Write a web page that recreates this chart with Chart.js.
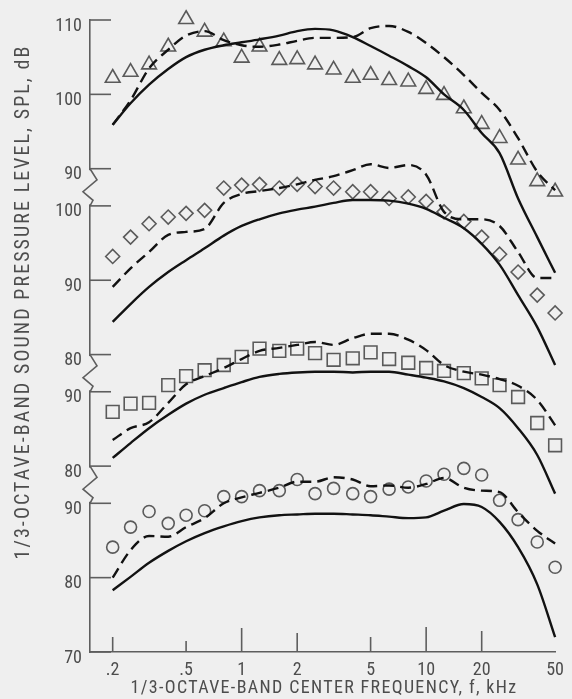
<!DOCTYPE html>
<html>
<head>
<meta charset="utf-8">
<script src="https://cdn.jsdelivr.net/npm/chart.js@4/dist/chart.umd.min.js"></script>
<style>
  html, body { margin: 0; padding: 0; background: #efefef; }
  canvas { display: block; }
</style>
</head>
<body>
<canvas id="c" width="572" height="699"></canvas>
<script>
// 1/3-octave band centre frequencies, kHz
const FREQ = [0.2,0.25,0.315,0.4,0.5,0.63,0.8,1,1.25,1.6,2,2.5,3.15,4,5,6.3,8,10,12.5,16,20,25,31.5,40,50];

// Panel 1 (triangles), dB
const TRI_DATA   = [102.2,103.0,104.0,106.4,110.1,108.4,107.1,104.9,106.4,104.6,104.7,104.0,103.3,102.2,102.6,101.9,101.7,100.7,99.9,98.1,96.0,94.1,91.2,88.3,86.9];
const TRI_SOLID  = [95.9,98.8,101.3,103.4,105.0,106.0,106.6,107.0,107.4,107.9,108.5,108.8,108.6,107.7,106.5,105.2,103.8,102.3,100.0,97.9,94.8,92.1,86.0,80.8,76.0];
const TRI_DASH   = [95.9,99.2,103.5,106.0,107.9,108.5,107.3,106.6,106.4,106.7,107.2,107.6,107.6,107.7,108.9,109.2,108.4,106.9,105.0,102.6,100.2,97.9,94.1,89.6,87.1];

// Panel 2 (diamonds), dB
const DIA_DATA   = [93.2,95.8,97.6,98.5,99.0,99.4,102.4,102.8,102.9,102.4,102.9,102.6,102.4,101.9,101.9,101.0,101.2,100.6,99.2,97.9,95.8,93.5,91.1,88.0,85.6];
const DIA_SOLID  = [84.4,86.8,89.1,91.1,92.7,94.3,96.0,97.3,98.2,99.0,99.5,99.9,100.4,100.8,100.8,100.7,100.3,99.6,98.4,97.0,94.9,92.1,88.0,83.7,78.6];
const DIA_DASH   = [89.1,91.6,93.8,96.1,96.5,96.9,100.4,101.6,102.0,102.4,102.9,103.5,104.0,104.8,105.6,105.1,105.5,104.2,99.2,98.2,98.2,97.3,93.8,90.3,90.3];

// Panel 3 (squares), dB
const SQ_DATA    = [87.3,88.4,88.5,90.9,92.1,92.9,93.6,94.7,95.8,95.5,95.8,95.2,94.3,94.5,95.3,94.4,93.9,93.2,92.8,92.5,91.8,90.9,89.3,85.8,82.8];
const SQ_SOLID   = [81.1,83.1,85.1,86.9,88.4,89.6,90.5,91.3,92.0,92.4,92.6,92.7,92.7,92.6,92.7,92.7,92.3,91.9,91.4,90.5,89.3,87.8,85.1,81.5,76.3];
const SQ_DASH    = [83.5,85.1,85.9,88.5,91.0,92.1,93.2,94.4,95.5,95.9,96.3,96.7,96.3,97.2,97.8,97.8,97.0,95.6,93.6,92.7,92.3,91.7,90.8,88.9,85.5];

// Panel 4 (circles), dB
const CIR_DATA   = [84.1,86.8,88.9,87.3,88.4,89.0,90.9,90.9,91.7,91.7,93.2,91.3,92.0,91.3,90.9,91.9,92.2,93.0,93.9,94.7,93.8,90.4,87.8,84.8,81.4];
const CIR_SOLID  = [78.3,80.1,82.0,83.6,84.9,86.0,86.9,87.6,88.1,88.4,88.5,88.6,88.6,88.5,88.4,88.2,88.0,88.1,89.0,89.9,89.5,87.5,84.1,79.1,72.0];
const CIR_DASH   = [80.0,83.7,85.6,85.5,86.8,88.0,90.0,90.8,91.4,92.1,92.9,92.9,93.5,93.2,92.3,92.4,92.1,92.6,93.4,92.1,91.7,91.5,88.8,86.3,84.6];

// Staggered SPL axis: each panel is shifted up by this many dB on the common scale
const PANEL_OFFSET = [45, 30, 15, 0];

// Y ticks (position on common scale) and their printed labels
const Y_TICK_POS    = [70, 80, 90, 95, 105, 110, 120, 130, 135, 145, 155];
const Y_TICK_LABELS = ['70','80','90','80','90','80','90','100','90','100','110'];
// Axis breaks (upper tick, lower tick) on the common scale
const Y_BREAKS = [[135,130],[110,105],[95,90]];

const X_TICKS       = [0.2, 0.5, 1, 2, 5, 10, 20, 50];
const X_TICK_LABELS = ['.2', '.5', '1', '2', '5', '10', '20', '50'];

const Y_TITLE = '1/3-OCTAVE-BAND SOUND PRESSURE LEVEL, SPL, dB';
const X_TITLE = '1/3-OCTAVE-BAND CENTER FREQUENCY, f, kHz';

const FONT = '"Roboto Condensed", "DejaVu Sans Condensed", sans-serif';
const INK = '#121212';
const GREY = '#5a5a5a';
const TEXT = '#4d4d4d';
const BG = '#efefef';

function pts(arr, off) { return FREQ.map((f, i) => ({ x: f, y: arr[i] + off })); }

function markerSet(arr, off, style, r) {
  return { data: pts(arr, off), showLine: false, pointStyle: style, pointRadius: r,
    pointBorderColor: GREY, pointBackgroundColor: 'rgba(0,0,0,0)', pointBorderWidth: 1.6,
    clip: false, order: 2 };
}
function lineSet(arr, off, dashed) {
  return { data: pts(arr, off), showLine: true, pointRadius: 0, borderColor: INK,
    borderWidth: 2.4, borderDash: dashed ? [11, 6] : [], tension: 0.35,
    cubicInterpolationMode: 'monotone', clip: false, order: 1 };
}

const datasets = [
  markerSet(TRI_DATA, PANEL_OFFSET[0], 'triangle', 8.5),
  lineSet(TRI_SOLID, PANEL_OFFSET[0], false),
  lineSet(TRI_DASH, PANEL_OFFSET[0], true),
  markerSet(DIA_DATA, PANEL_OFFSET[1], 'rectRot', 7),
  lineSet(DIA_SOLID, PANEL_OFFSET[1], false),
  lineSet(DIA_DASH, PANEL_OFFSET[1], true),
  markerSet(SQ_DATA, PANEL_OFFSET[2], 'rect', 9),
  lineSet(SQ_SOLID, PANEL_OFFSET[2], false),
  lineSet(SQ_DASH, PANEL_OFFSET[2], true),
  markerSet(CIR_DATA, PANEL_OFFSET[3], 'circle', 6),
  lineSet(CIR_SOLID, PANEL_OFFSET[3], false),
  lineSet(CIR_DASH, PANEL_OFFSET[3], true),
];

const decor = {
  id: 'decor',
  beforeDraw(chart) {
    const ctx = chart.ctx;
    ctx.save();
    ctx.fillStyle = BG;
    ctx.fillRect(0, 0, chart.width, chart.height);
    ctx.restore();
  },
  afterDraw(chart) {
    const ctx = chart.ctx;
    const xs = chart.scales.x, ys = chart.scales.y;
    const L = chart.chartArea.left, B = chart.chartArea.bottom;
    ctx.save();
    ctx.strokeStyle = '#5e5e5e';
    ctx.lineWidth = 1.6;
    // inward y tick marks
    Y_TICK_POS.forEach(v => {
      const y = ys.getPixelForValue(v);
      ctx.beginPath(); ctx.moveTo(L, y); ctx.lineTo(L + 21, y); ctx.stroke();
    });
    // axis breaks (zig-zags)
    Y_BREAKS.forEach(([a, b]) => {
      const yt = ys.getPixelForValue(a), yb = ys.getPixelForValue(b);
      const h = yb - yt;
      ctx.fillStyle = BG;
      ctx.fillRect(L - 2, yt + 1.5, 4, h - 3);
      ctx.beginPath();
      ctx.moveTo(L, yt);
      ctx.lineTo(L + 7, yt + 0.3 * h);
      ctx.lineTo(L - 7, yt + 0.62 * h);
      ctx.lineTo(L + 3, yt + 0.85 * h);
      ctx.lineTo(L, yb);
      ctx.stroke();
    });
    // inward x tick marks
    const xLen = { 0.2: 15, 0.5: 11, 1: 24, 2: 19, 5: 15, 10: 25, 20: 21 };
    X_TICKS.forEach(v => {
      if (!xLen[v]) return;
      const x = xs.getPixelForValue(v);
      ctx.beginPath(); ctx.moveTo(x, B); ctx.lineTo(x, B - xLen[v]); ctx.stroke();
    });
    // axis titles, letter-spaced to their printed extent
    ctx.fillStyle = TEXT;
    ctx.textAlign = 'center';
    ctx.textBaseline = 'middle';
    function fit(text, size, w) {
      ctx.font = size + 'px ' + FONT;
      ctx.letterSpacing = '0px';
      const m = ctx.measureText(text).width;
      const ls = Math.max(0, (w - m) / text.length);
      ctx.letterSpacing = ls.toFixed(2) + 'px';
    }
    fit(X_TITLE, 18, 387);
    ctx.fillText(X_TITLE, 324, 688);
    ctx.save();
    ctx.translate(24, 302);
    ctx.rotate(-Math.PI / 2);
    fit(Y_TITLE, 20, 515);
    ctx.fillText(Y_TITLE, 0, 0);
    ctx.restore();
    ctx.restore();
  }
};

new Chart(document.getElementById('c'), {
  type: 'line',
  data: { datasets },
  options: {
    responsive: false,
    animation: false,
    devicePixelRatio: 1,
    layout: { padding: { top: 20, right: 11, left: 0, bottom: 0 } },
    plugins: { legend: { display: false }, tooltip: { enabled: false } },
    scales: {
      x: {
        type: 'logarithmic', min: 0.1507, max: 50,
        afterFit: s => { s.height = 47; },
        afterBuildTicks: s => { s.ticks = X_TICKS.map(v => ({ value: v })); },
        grid: { display: false, drawTicks: false },
        border: { display: true, color: '#5e5e5e', width: 1.6 },
        ticks: { autoSkip: false, maxRotation: 0, padding: 8, color: TEXT,
          font: { family: FONT, size: 18 },
          callback: (v, i) => X_TICK_LABELS[i] }
      },
      y: {
        type: 'linear', min: 70, max: 155,
        afterFit: s => { s.width = 90; },
        afterBuildTicks: s => { s.ticks = Y_TICK_POS.map(v => ({ value: v })); },
        grid: { display: false, drawTicks: false },
        border: { display: true, color: '#5e5e5e', width: 1.6 },
        ticks: { autoSkip: false, padding: 8, labelOffset: 6, color: TEXT,
          font: { family: FONT, size: 18 },
          callback: (v, i) => Y_TICK_LABELS[i] }
      }
    }
  },
  plugins: [decor]
});
</script>
</body>
</html>
